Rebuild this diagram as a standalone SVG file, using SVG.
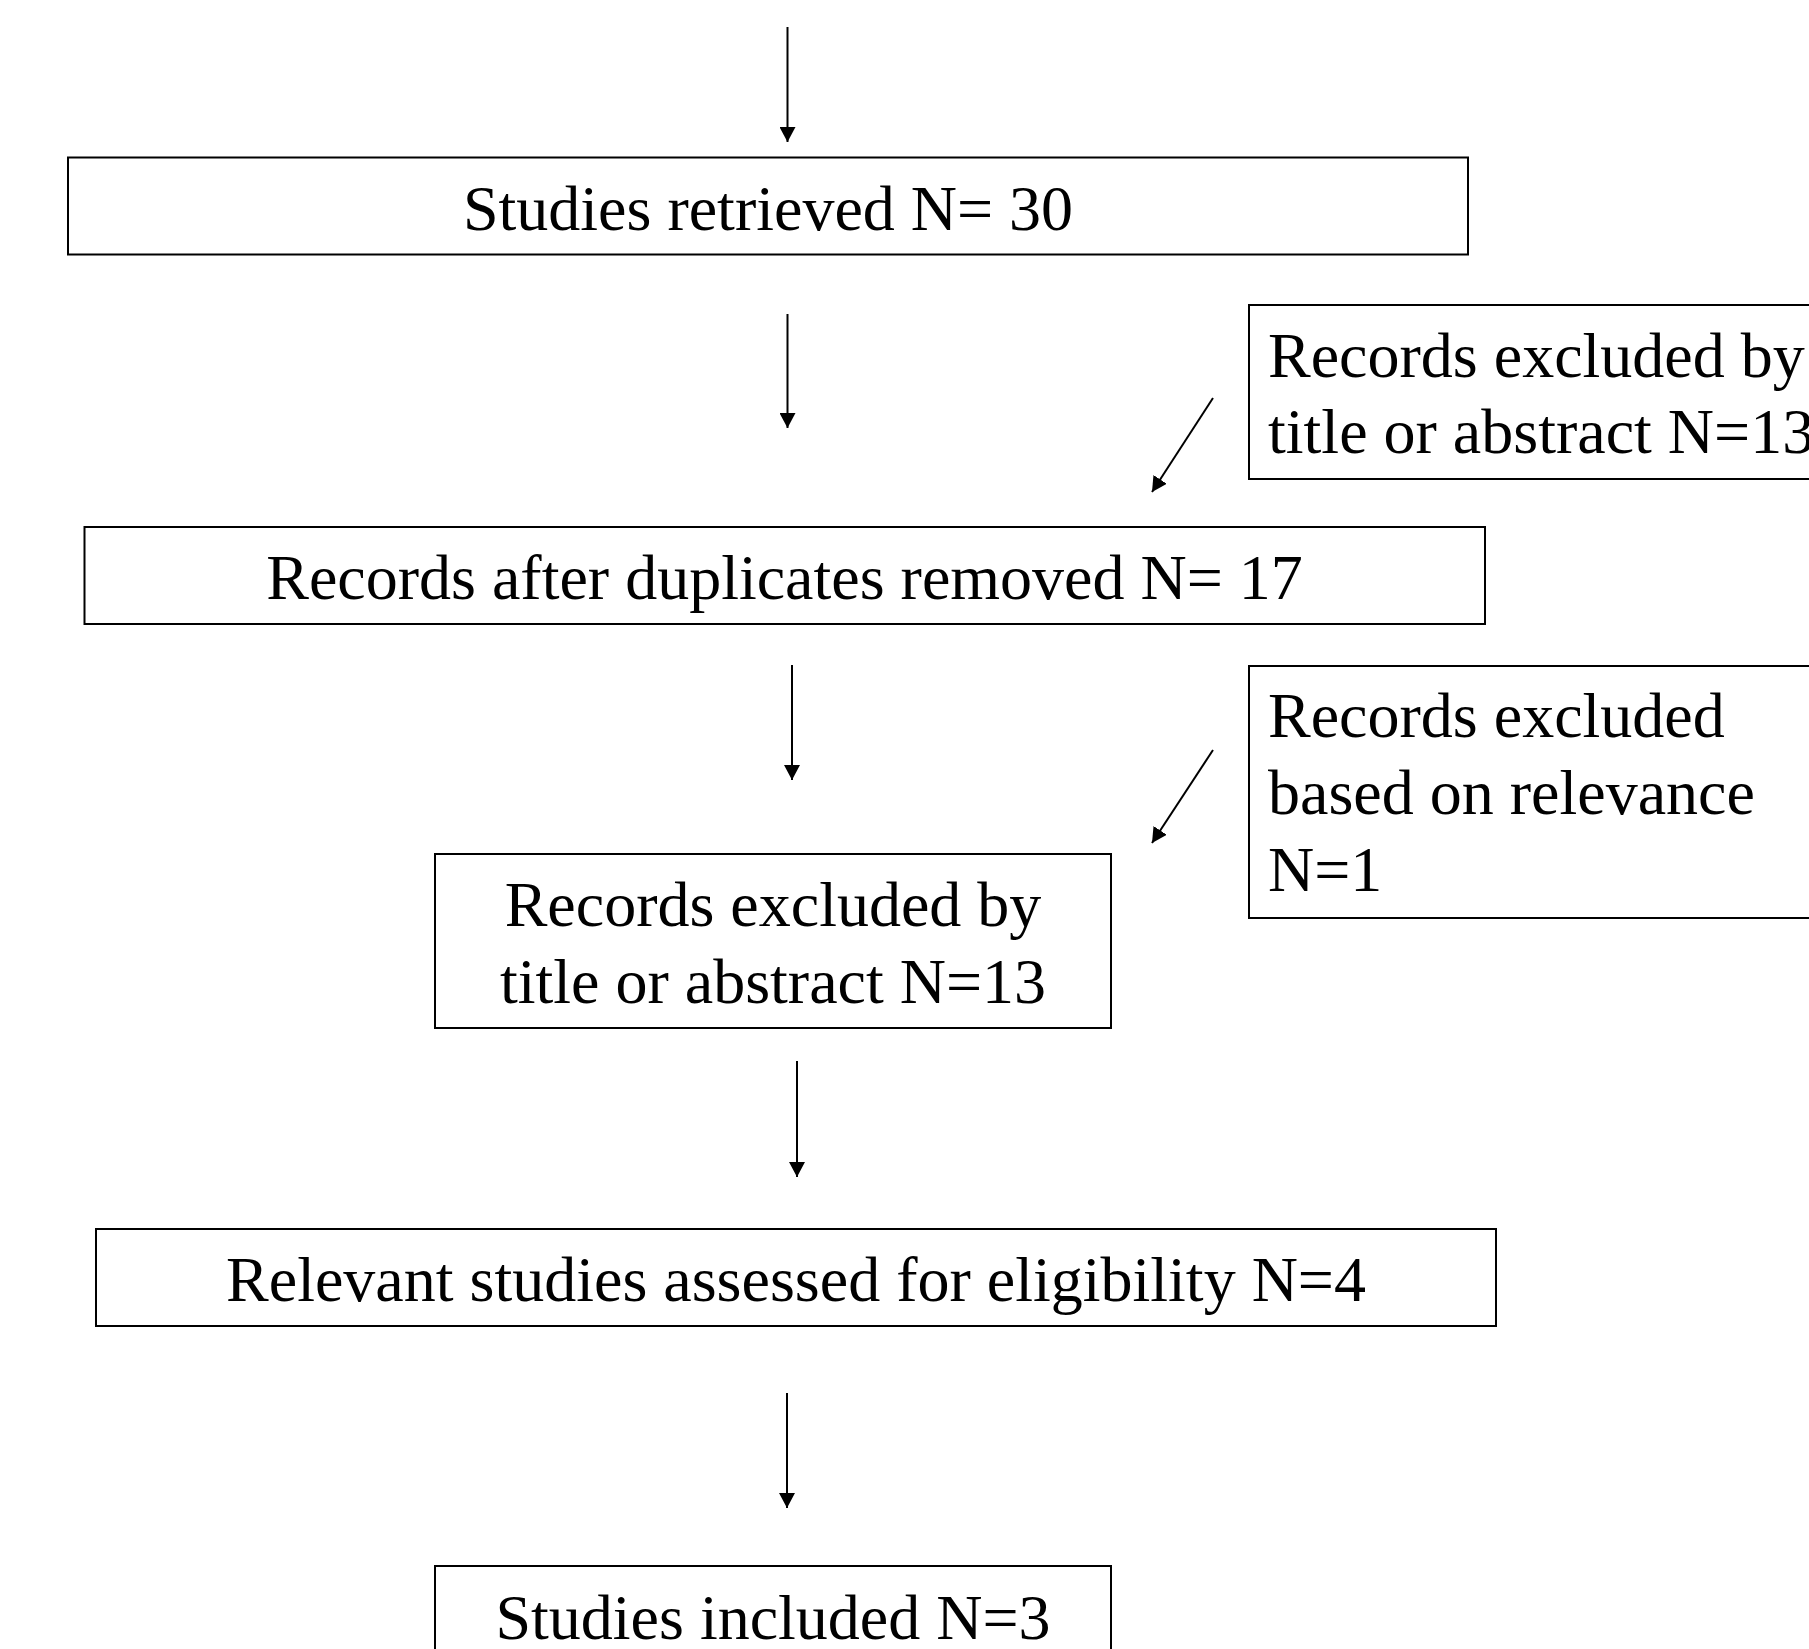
<svg xmlns="http://www.w3.org/2000/svg" width="1809" height="1649" viewBox="0 0 1809 1649">
<style>
.box{fill:#fff;stroke:#000;stroke-width:2}
.t{font-family:"Liberation Serif","Times New Roman",serif;font-size:64px;fill:#000}
.c{text-anchor:middle}
.conn{stroke:#000;stroke-width:2;fill:none;marker-end:url(#ah)}
</style>
<defs>
<marker id="ah" viewBox="0 0 15 16" refX="15" refY="8" markerWidth="15" markerHeight="16" markerUnits="userSpaceOnUse" orient="auto">
<path d="M0,0 L15,8 L0,16 z" fill="#000"/>
</marker>
</defs>
<rect width="1809" height="1649" fill="#fff"/>
<g id="n1">
<rect class="box" x="68" y="157.5" width="1400" height="97"/>
<text class="t c" x="768" y="230">Studies retrieved N= 30</text>
</g>
<g id="n2">
<rect class="box" x="1249" y="305" width="620" height="174"/>
<text class="t" x="1268" y="377">Records excluded by</text>
<text class="t" x="1268" y="453">title or abstract N=13</text>
</g>
<g id="n3">
<rect class="box" x="84.5" y="527" width="1400.5" height="97"/>
<text class="t c" x="784.5" y="599">Records after duplicates removed N= 17</text>
</g>
<g id="n4">
<rect class="box" x="1249" y="666" width="620" height="252"/>
<text class="t" x="1268" y="737">Records excluded</text>
<text class="t" x="1268" y="814">based on relevance</text>
<text class="t" x="1268" y="891">N=1</text>
</g>
<g id="n5">
<rect class="box" x="435" y="854" width="676" height="174"/>
<text class="t c" x="773" y="926">Records excluded by</text>
<text class="t c" x="773" y="1003">title or abstract N=13</text>
</g>
<g id="n6">
<rect class="box" x="96" y="1229" width="1400" height="97"/>
<text class="t c" x="796" y="1301">Relevant studies assessed for eligibility N=4</text>
</g>
<g id="n7">
<rect class="box" x="435" y="1566" width="676" height="140"/>
<text class="t c" x="773" y="1639">Studies included N=3</text>
</g>
<g id="connectors">
<line class="conn" x1="787.5" y1="27" x2="787.5" y2="142"/>
<line class="conn" x1="787.5" y1="314" x2="787.5" y2="428"/>
<line class="conn" x1="1213" y1="398" x2="1152" y2="492"/>
<line class="conn" x1="792" y1="665" x2="792" y2="780"/>
<line class="conn" x1="1213" y1="750" x2="1152" y2="843"/>
<line class="conn" x1="797" y1="1061" x2="797" y2="1177"/>
<line class="conn" x1="787" y1="1393" x2="787" y2="1508"/>
</g>
</svg>
